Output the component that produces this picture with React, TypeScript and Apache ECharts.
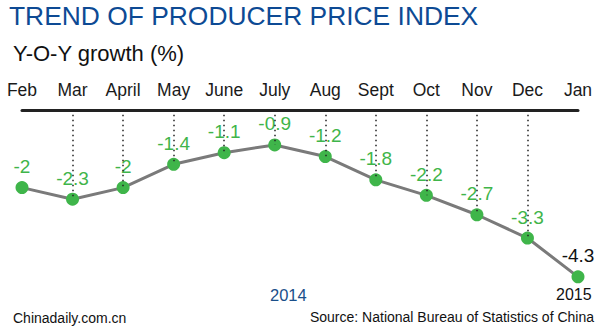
import React, { useEffect, useRef } from "react";
import * as echarts from "echarts";

const months = ["Feb", "Mar", "April", "May", "June", "July", "Aug", "Sept", "Oct", "Nov", "Dec", "Jan"];
const ppi = [-2, -2.3, -2, -1.4, -1.1, -0.9, -1.2, -1.8, -2.2, -2.7, -3.3, -4.3];
const dottedIdx = [1, 2, 3, 4, 5, 6, 7, 8, 9, 10];

const GREEN = "#3fb54a";
const FONT = "Liberation Sans, Arial, sans-serif";

export default function App() {
  const ref = useRef<HTMLDivElement>(null);
  useEffect(() => {
    if (!ref.current) return;
    const chart = echarts.init(ref.current, null, { renderer: "svg" });
    const last = ppi.length - 1;
    chart.setOption({
      animation: false,
      backgroundColor: "#ffffff",
      textStyle: { fontFamily: FONT },
      grid: { left: 22, right: 22, top: 110, bottom: 23 },
      xAxis: {
        type: "category",
        position: "top",
        data: months,
        boundaryGap: false,
        axisLine: { show: true, lineStyle: { color: "#222222", width: 3 } },
        axisTick: { show: false },
        axisLabel: { fontSize: 17.5, color: "#1a1a1a", margin: 11, fontFamily: FONT, interval: 0 },
        splitLine: { show: false },
      },
      yAxis: { type: "value", min: -5, max: 0, show: false },
      series: [
        {
          type: "line",
          data: ppi,
          z: 1,
          symbol: "none",
          lineStyle: { opacity: 0 },
          silent: true,
          markLine: {
            silent: true,
            symbol: "none",
            label: { show: false },
            lineStyle: { color: "#222222", width: 1.5, type: [1.5, 3.5] },
            data: dottedIdx.map((i) => [
              { coord: [i, -0.12] },
              { coord: [i, ppi[i]] },
            ]),
          },
        },
        {
          type: "line",
          z: 3,
          data: ppi.map((v, i) =>
            i === last ? { value: v, label: { color: "#111111" } } : v
          ),
          symbol: "circle",
          symbolSize: 13,
          itemStyle: { color: GREEN },
          lineStyle: { color: "#7a7a7a", width: 3 },
          label: {
            show: true,
            position: "top",
            distance: 5,
            fontSize: 19,
            color: GREEN,
            fontFamily: FONT,
          },
        },
      ],
      graphic: [
        {
          type: "text",
          left: 9,
          top: 3,
          style: { text: "TREND OF PRODUCER PRICE INDEX", fontSize: 26.4, fill: "#0d4a94", fontFamily: FONT },
        },
        {
          type: "text",
          left: 13,
          top: 42,
          style: { text: "Y-O-Y growth (%)", fontSize: 22, fill: "#111111", fontFamily: FONT },
        },
        {
          type: "text",
          left: 270,
          top: 286,
          style: { text: "2014", fontSize: 16.5, fill: "#1a4f8a", fontFamily: FONT },
        },
        {
          type: "text",
          left: 556,
          top: 286,
          style: { text: "2015", fontSize: 16, fill: "#111111", fontFamily: FONT },
        },
        {
          type: "text",
          left: 13,
          top: 311,
          style: { text: "Chinadaily.com.cn", fontSize: 14, fill: "#111111", fontFamily: FONT },
        },
        {
          type: "text",
          right: 6,
          top: 310,
          style: { text: "Source: National Bureau of Statistics of China", fontSize: 14, fill: "#111111", fontFamily: FONT },
        },
      ],
    });
    return () => chart.dispose();
  }, []);
  return <div ref={ref} style={{ width: 600, height: 327, position: "absolute", left: 0, top: 0 }} />;
}
